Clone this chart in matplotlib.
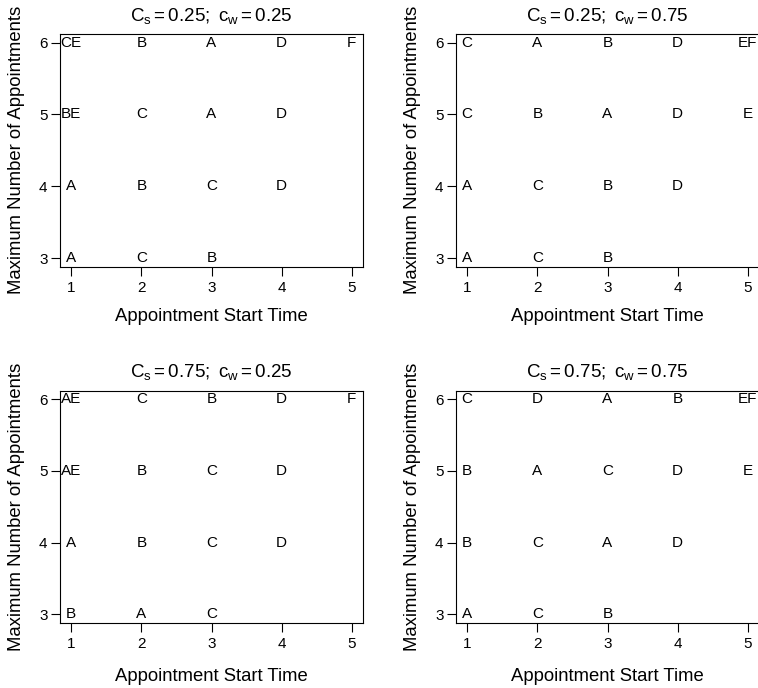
import matplotlib

matplotlib.use("Agg")

import matplotlib.pyplot as plt

plt.rcParams["font.family"] = ["Liberation Sans", "DejaVu Sans"]
plt.rcParams["mathtext.fontset"] = "custom"
plt.rcParams["mathtext.rm"] = "Liberation Sans"
plt.rcParams["mathtext.it"] = "Liberation Sans"

start_times = [1, 2, 3, 4, 5]
max_appointments = [3, 4, 5, 6]

cs_values = [0.25, 0.25, 0.75, 0.75]
cw_values = [0.25, 0.75, 0.25, 0.75]

# rows go from 3 up to 6 appointments, entries follow start times 1..5
labels_s025_w025 = [
    ["A", "C", "B"],
    ["A", "B", "C", "D"],
    ["BE", "C", "A", "D"],
    ["CE", "B", "A", "D", "F"],
]
labels_s025_w075 = [
    ["A", "C", "B"],
    ["A", "C", "B", "D"],
    ["C", "B", "A", "D", "E"],
    ["C", "A", "B", "D", "EF"],
]
labels_s075_w025 = [
    ["B", "A", "C"],
    ["A", "B", "C", "D"],
    ["AE", "B", "C", "D"],
    ["AE", "C", "B", "D", "F"],
]
labels_s075_w075 = [
    ["A", "C", "B"],
    ["B", "C", "A", "D"],
    ["B", "A", "C", "D", "E"],
    ["C", "D", "A", "B", "EF"],
]

panel_labels = [labels_s025_w025, labels_s025_w075, labels_s075_w025, labels_s075_w075]

W, H = 758, 688
# axes boxes in pixels: left, top, right, bottom
boxes = [
    (60, 34, 363, 266.7),
    (456, 34, 759, 266.7),
    (60, 390.7, 363, 622.7),
    (456, 390.7, 759, 622.7),
]
xlabel_offsets = [-0.178, -0.178, -0.195, -0.195]


def draw_panel(ax, labels, cs, cw, xlabel_y):
    for row, y in zip(labels, max_appointments):
        for x, text in zip(start_times, row):
            ax.text(x, y, text, ha="center", va="center", fontsize=11, clip_on=False)

    ax.set_xlim(0.84, 5.16)
    ax.set_ylim(2.88, 6.12)
    ax.set_xticks(start_times)
    ax.set_yticks(max_appointments)
    ax.tick_params(direction="out", length=6.5, width=0.8, labelsize=11)
    ax.tick_params(axis="x", pad=3.5)
    ax.tick_params(axis="y", pad=2.5)
    for spine in ax.spines.values():
        spine.set_linewidth(0.8)

    ax.set_title(
        rf"$\mathregular{{C_s = {cs:.2f};\ c_w = {cw:.2f}}}$",
        fontsize=13.5,
        pad=9.6,
    )
    ax.set_xlabel("Appointment Start Time", fontsize=13.3)
    ax.set_ylabel("Maximum Number of Appointments", fontsize=13.3)
    ax.xaxis.set_label_coords(0.5, xlabel_y)
    ax.yaxis.set_label_coords(-0.117, 0.5)


fig = plt.figure(figsize=(W / 100, H / 100), dpi=100)
for (left, top, right, bottom), labels, cs, cw, xl in zip(
    boxes, panel_labels, cs_values, cw_values, xlabel_offsets
):
    ax = fig.add_axes([left / W, 1 - bottom / H, (right - left) / W, (bottom - top) / H])
    draw_panel(ax, labels, cs, cw, xl)

fig.savefig("out.png", dpi=100)
plt.close(fig)
